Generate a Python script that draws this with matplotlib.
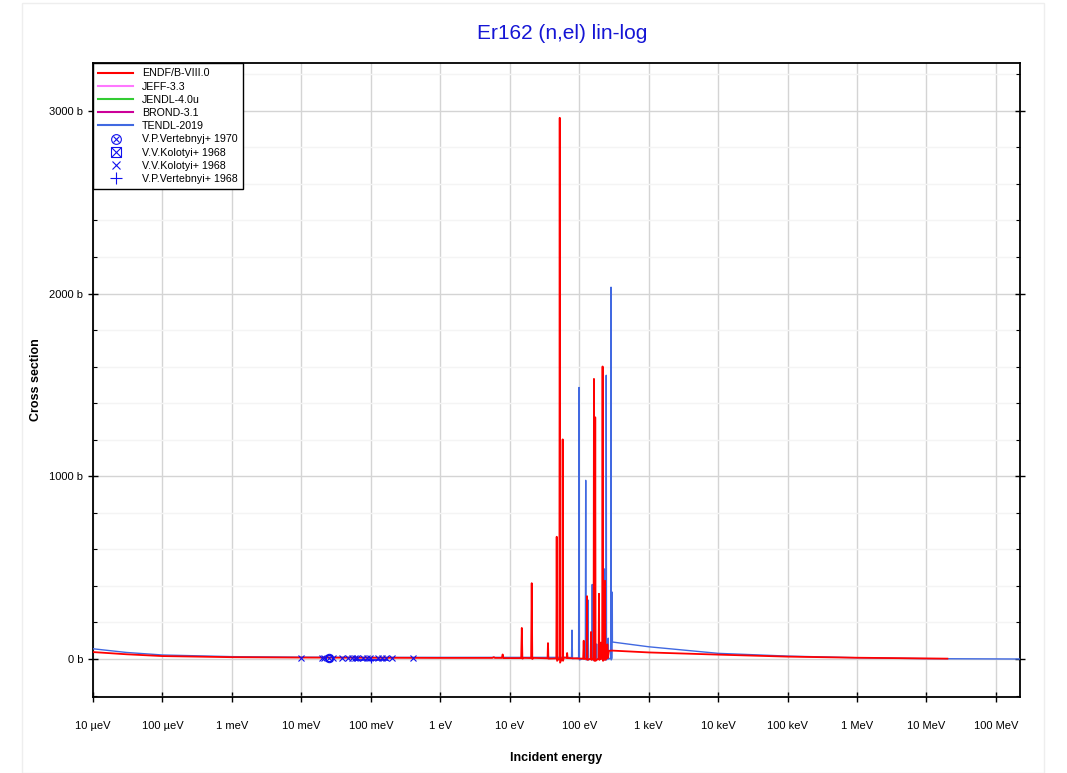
import matplotlib
matplotlib.use("Agg")
from matplotlib import pyplot as plt
from matplotlib.lines import Line2D
from matplotlib.patches import Rectangle
import numpy as np

plt.rcParams['font.family'] = ['Liberation Sans', 'DejaVu Sans']

# ENDF/B-VIII.0 elastic (energy in eV, cross section in b)
endf_e = [1e-5, 3e-5, 1e-4, 1e-3, 1e-2, 0.1, 1.0,
          5.6, 5.9, 6.1, 7.7, 7.9, 8.1,
          14.6, 14.9, 15.2, 16.0,
          20.3, 20.7, 21.1, 22.0,
          35.0, 35.5, 36.0,
          46.8, 47.4, 48.0,
          51.8, 52.4, 53.0,
          57.2, 57.8, 58.5, 60.0,
          66.0, 67.0, 68.0,
          114.0, 116.0, 118.0,
          128.0, 129.4, 131.0,
          146.0, 148.0, 150.0,
          161.0, 163.0, 165.0,
          168.0, 170.0, 172.0,
          190.0, 192.6, 195.0,
          202.0, 205.0, 208.0,
          214.0, 217.0, 220.0,
          232.0, 235.0, 238.0,
          250.0, 254.0, 258.0,
          268.0, 300.0, 1e3, 1e4, 1e5, 1e6, 2e7]
endf_xs = [38, 26, 16, 10, 8, 7, 6,
           6, 10, 6, 6, 25, 5,
           5, 170, 2, 6,
           5, 415, 0, 6,
           4, 87, 2,
           3, 669, -10,
           5, 2962, -20,
           8, 1202, -10, 8,
           6, 33, 5,
           2, 100, 0,
           2, 344, -5,
           2, 148, -5,
           5, 1533, -10,
           2, 1323, -10,
           3, 357, -5,
           5, 90, 0,
           5, 1601, -10,
           2, 428, -5,
           10, 80, 5,
           45, 46, 36, 24, 13, 7, 2]

# TENDL-2019 elastic
tendl_e = [1e-5, 3e-5, 1e-4, 1e-3, 1e-2, 0.1, 1.0, 10.0, 60.0,
           77.5, 78.7, 80.0,
           98.0, 99.3, 100.6,
           122.5, 124.0, 125.5,
           132.0, 133.7, 135.5,
           152.0, 154.0, 156.0,
           176.0, 178.0, 180.0,
           227.0, 230.0, 232.0,
           243.0, 245.0, 247.0,
           260.0, 262.0, 264.0,
           285.0, 287.0, 289.0,
           297.0, 299.0, 300.5,
           1e3, 1e4, 1e5, 1e6, 1e7, 2.2e8]
tendl_xs = [56, 36, 22, 13, 10, 9, 9, 9, 9,
            8, 158, 2,
            6, 1486, -5,
            5, 978, -5,
            5, 323, -5,
            5, 408, -5,
            5, 82, 0,
            5, 493, -5,
            5, 1553, -5,
            5, 114, 0,
            5, 2035, -5,
            5, 366, 93,
            67, 31, 16, 7, 2, 0]

# experimental data
vert70_e = [0.0253]
vert70_xs = [5]
kol68b_e = [0.0253]
kol68b_xs = [5]
kol68_e = [0.0099, 0.0196, 0.0214, 0.0288, 0.0381, 0.0474, 0.0530, 0.0583,
           0.0625, 0.0773, 0.0893, 0.0976, 0.125, 0.147, 0.1675, 0.204, 0.40]
kol68_xs = [4, 4, 4, 4, 4, 4, 4, 4, 4, 4, 4, 4, 4, 4, 4, 4, 4]
vert68_e = [0.10]
vert68_xs = [-3]
vert68_elo = [0.058]
vert68_ehi = [0.175]

xtick_vals = [1e-5, 1e-4, 1e-3, 1e-2, 1e-1, 1, 10, 100, 1e3, 1e4, 1e5, 1e6, 1e7, 1e8]
xtick_labels = ['10 µeV', '100 µeV', '1 meV', '10 meV', '100 meV', '1 eV', '10 eV',
                '100 eV', '1 keV', '10 keV', '100 keV', '1 MeV', '10 MeV', '100 MeV']
ytick_vals = [0, 1000, 2000, 3000]
ytick_labels = ['0 b', '1000 b', '2000 b', '3000 b']

fig = plt.figure(figsize=(10.67, 7.73), dpi=100)
fig.patches.append(Rectangle((0.021, 0.0), 0.957, 0.996, transform=fig.transFigure,
                             fill=False, ec='#eeeeee', lw=1))
ax = fig.add_axes([0.0872, 0.0983, 0.8685, 0.8202])

c_data = '#1010ee'
ax.plot(tendl_e, tendl_xs, color='#4169e1', lw=1.0, zorder=3)
ax.plot(endf_e, endf_xs, color='#ff0000', lw=1.3, zorder=4)
ax.plot(kol68_e, kol68_xs, ls='none', marker='x', ms=4, mew=0.8, color=c_data, zorder=5)
ax.plot(vert70_e, vert70_xs, ls='none', marker='o', ms=6, mfc='none', mew=0.8, color=c_data, zorder=5)
ax.plot(vert70_e, vert70_xs, ls='none', marker='x', ms=4, mew=0.8, color=c_data, zorder=5)
ax.plot(kol68b_e, kol68b_xs, ls='none', marker='s', ms=5, mfc='none', mew=0.8, color=c_data, zorder=5)
xerr = [np.array(vert68_e) - np.array(vert68_elo), np.array(vert68_ehi) - np.array(vert68_e)]
ax.errorbar(vert68_e, vert68_xs, xerr=xerr, fmt='+', ms=5, mew=0.8, elinewidth=1.2,
            color=c_data, zorder=5)

ax.set_xscale('log')
ax.set_xlim(1e-5, 2.2e8)
ax.set_ylim(-208, 3262)
ax.set_xticks(xtick_vals)
ax.set_xticklabels(xtick_labels, fontsize=8)
ax.xaxis.set_minor_locator(matplotlib.ticker.NullLocator())
ax.set_yticks(ytick_vals)
ax.set_yticklabels(ytick_labels, fontsize=8)
ax.set_yticks(np.arange(-200, 3201, 200), minor=True)
ax.tick_params(axis='x', which='major', direction='inout', length=7, width=1, pad=14)
ax.tick_params(axis='y', which='major', direction='inout', length=7, width=1, right=True)
ax.tick_params(axis='y', which='minor', direction='in', length=3, width=0.8, right=True)
ax.grid(True, which='major', color='#d4d4d4', lw=1)
ax.grid(True, which='minor', axis='y', color='#f4f4f4', lw=1)
ax.set_axisbelow(True)
for s in ax.spines.values():
    s.set_linewidth(1.3)

ax.set_xlabel('Incident energy', fontsize=9, fontweight='bold', labelpad=15)
ax.set_ylabel('Cross section', fontsize=9, fontweight='bold', labelpad=5)
fig.text(0.5265, 0.957, 'Er162 (n,el) lin-log', ha='center', va='center',
         fontsize=15, color='#1515d5')

handles = [
    Line2D([], [], color='#ff0000', lw=1.5),
    Line2D([], [], color='#ff77ff', lw=1.5),
    Line2D([], [], color='#33cc33', lw=1.5),
    Line2D([], [], color='#cc0099', lw=1.5),
    Line2D([], [], color='#4169e1', lw=1.5),
    (Line2D([], [], ls='none', marker='o', ms=7, mfc='none', mew=0.8, color=c_data),
     Line2D([], [], ls='none', marker='x', ms=5, mew=0.8, color=c_data)),
    (Line2D([], [], ls='none', marker='s', ms=7, mfc='none', mew=0.8, color=c_data),
     Line2D([], [], ls='none', marker='x', ms=7, mew=0.8, color=c_data)),
    Line2D([], [], ls='none', marker='x', ms=6, mew=0.8, color=c_data),
    Line2D([], [], ls='none', marker='+', ms=8, mew=0.8, color=c_data),
]
labels = ['ENDF/B-VIII.0', 'JEFF-3.3', 'JENDL-4.0u', 'BROND-3.1', 'TENDL-2019',
          'V.P.Vertebnyj+ 1970', 'V.V.Kolotyi+ 1968', 'V.V.Kolotyi+ 1968',
          'V.P.Vertebnyi+ 1968']
leg = ax.legend(handles, labels, loc='upper left', fontsize=7.7, borderaxespad=0,
                labelspacing=0.3, handlelength=3.2, handletextpad=0.9,
                fancybox=False, framealpha=1, edgecolor='black', borderpad=0.5)
leg.get_frame().set_linewidth(1.0)
leg.set_zorder(10)

fig.savefig('out.png', dpi=100)
